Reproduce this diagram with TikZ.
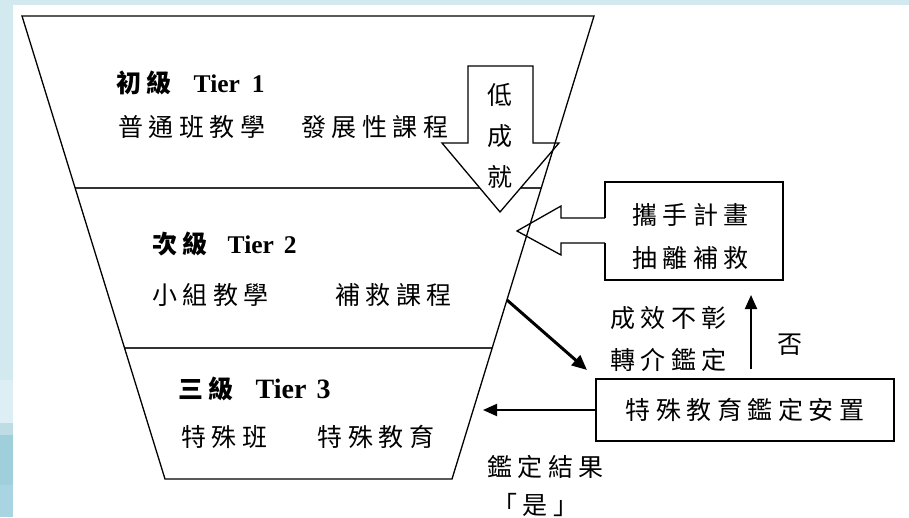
\documentclass[tikz,border=0pt]{standalone}
\usepackage{fontspec}
\setmainfont{Liberation Serif}
\newfontfamily\cjk{Noto Sans CJK TC}[LetterSpace=22]
\newfontfamily\cjkz{Noto Sans CJK TC}
\usetikzlibrary{arrows.meta,calc}
\definecolor{bgblue}{HTML}{D2E9EF}
\definecolor{bgA}{HTML}{DDEFF4}
\definecolor{bgB}{HTML}{BEDCE3}
\definecolor{bgC}{HTML}{A0CFDC}
\definecolor{bgD}{HTML}{A8D5E1}
\begin{document}
\begin{tikzpicture}[x=1pt,y=-1pt,
  txt/.style={inner sep=0pt, anchor=west, font=\cjk\fontsize{25}{30}\selectfont},
  head/.style={inner sep=0pt, anchor=base west, font=\fontsize{25.5}{30}\selectfont\bfseries},
  outline/.style={line width=1.3pt, line join=miter},
  divider/.style={line width=1.2pt, draw=black!80},
  fatarrow/.style={line width=1.3pt, fill=white, line join=miter},
  boldarrow/.style={line width=3pt, -{Triangle[length=15pt,width=13pt]}},
  thinarrow/.style={line width=2pt, -{Triangle[length=14pt,width=12pt]}}
]
\useasboundingbox (0,0) rectangle (909,517);
% background
\fill[bgblue] (0,0) rectangle (909,517);
\fill[bgA] (0,380) rectangle (13,423);
\fill[bgB] (0,423) rectangle (13,435);
\fill[bgC] (0,435) rectangle (13,485);
\fill[bgD] (0,485) rectangle (13,517);
\fill[white] (13,5) rectangle (909,517);

% funnel corners
\coordinate (ftl) at (22,16);
\coordinate (ftr) at (594,16);
\coordinate (fbr) at (452,479);
\coordinate (fbl) at (165,479);

% dividers
\draw[divider] ($(ftl)!0.3715!(fbl)$) -- ($(ftr)!0.3715!(fbr)$);
\draw[divider] ($(ftl)!0.717!(fbl)$) -- ($(ftr)!0.717!(fbr)$);

% down fat arrow (low achievement)
\draw[fatarrow] (468,66) -- (533,66) -- (533,143) -- (559,143) -- (500,212) -- (442,143) -- (468,143) -- cycle;
\node[inner sep=0pt, align=center, font=\cjkz\fontsize{25}{41}\selectfont] (low) at (500,136) {低\\成\\就};

% left fat arrow with box (plan)
\fill[white] (605,182) rectangle (783,280);
\draw[fatarrow] (605,218) -- (561,218) -- (561,206) -- (517,231) -- (561,255) -- (561,243) -- (605,243);
\draw[outline] (605,218) |- (783,182) |- (605,280) -- (605,243);
\node[txt] (plan1) at (632,215) {攜手計畫};
\node[txt] (plan2) at (632,258) {抽離補救};

% funnel outline
\draw[outline] (ftl) -- (ftr) -- (fbr) -- (fbl) -- cycle;

% tier texts
\node[head] (t1h) at (116,92) {{\cjk\fontsize{25}{30}\selectfont 初級}\hspace{22pt}Tier\hspace{12pt}1};
\node[txt] (t1l) at (118,127) {普通班教學　發展性課程};
\node[head] (t2h) at (152,253) {{\cjk\fontsize{25}{30}\selectfont 次級}\hspace{20pt}Tier\hspace{10pt}2};
\node[txt] (t2l) at (152,295) {小組教學　　補救課程};
\node[head, font=\fontsize{28}{30}\selectfont\bfseries] (t3h) at (178,398) {{\cjk\fontsize{25}{30}\selectfont 三級}\hspace{22pt}Tier\hspace{10pt}3};
\node[txt] (t3l) at (181,437) {特殊班　\hspace{20pt}特殊教育};

% placement box
\node[draw, line width=1.5pt, minimum width=298pt, minimum height=62pt, inner sep=0pt,
      font=\cjk\fontsize{25}{30}\selectfont] (place) at (745,410) {特殊教育鑑定安置};

% side labels
\node[txt] (ref1) at (610,318) {成效不彰};
\node[txt] (ref2) at (610,360) {轉介鑑定};
\node[inner sep=0pt, font=\cjkz\fontsize{25}{30}\selectfont] (no) at (790,345) {否};
\node[txt] (res1) at (487,467) {鑑定結果};
\node[txt] (res2) at (492,505) {「是」};

% connectors
\coordinate (dS) at (507,300);
\coordinate (dE) at (587,370);
\draw[boldarrow] (dS) -- (dE);
\coordinate (t3in) at (483,410);
\draw[thinarrow] (place.west) -- (t3in);
\coordinate (upS) at (751,369);
\coordinate (upE) at (751,295);
\draw[thinarrow] (upS) -- (upE);
\end{tikzpicture}
\end{document}
